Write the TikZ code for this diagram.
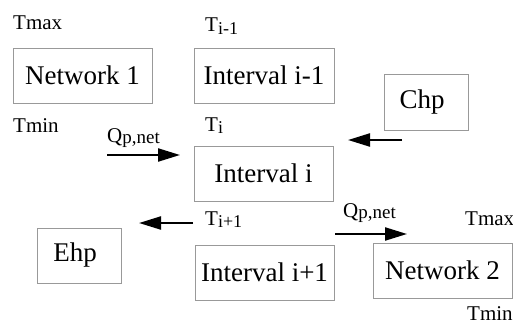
\documentclass[tikz,border=0pt]{standalone}
\usepackage{fontspec}
\setmainfont{Liberation Serif}
\usetikzlibrary{arrows.meta}
\newcommand\mysb[1]{\raisebox{-2.5pt}{\fontsize{18}{20}\selectfont #1}}
\begin{document}
\begin{tikzpicture}[x=1pt,y=-1pt,
  box/.style={draw=black!40, line width=0.9pt, inner sep=0pt, font=\fontsize{27}{30}\selectfont},
  lab/.style={anchor=base west, inner sep=0pt, font=\fontsize{21}{24}\selectfont},
  flow/.style={line width=2.2pt, -{Triangle[length=22pt,width=13pt]}}]
\useasboundingbox (0,0) rectangle (513,329);
% boxes
\node[box, minimum width=139pt, minimum height=55pt] (net1) at (82.5,75.5) {Network 1};
\node[box, minimum width=140pt, minimum height=55pt] (intm) at (264,75.5) {Interval i-1};
\node[box, minimum width=84pt, minimum height=56pt] (chp) at (426,102) {\hspace*{-8pt}Chp};
\node[box, minimum width=139pt, minimum height=55pt] (inti) at (263.5,173.5) {Interval i};
\node[box, minimum width=84pt, minimum height=55pt] (ehp) at (79,255.5) {\hspace*{-8pt}Ehp};
\node[box, minimum width=139pt, minimum height=55pt] (intp) at (264.5,272.5) {Interval i+1};
\node[box, minimum width=139pt, minimum height=55pt] (net2) at (442.5,270.5) {Network 2};
% labels
\node[lab] (tmax1) at (13,30) {Tmax};
\node[lab] (tmin1) at (13,132) {Tmin};
\node[lab] (tim) at (205,32) {T\mysb{i-1}};
\node[lab] (ti) at (205,131) {T\mysb{i}};
\node[lab] (tip) at (205,225) {T\mysb{i+1}};
\node[lab] (q1) at (107,142) {Q\raisebox{-1pt}{\fontsize{19}{20}\selectfont p,net}};
\node[lab] (q2) at (343,217) {Q\raisebox{-1pt}{\fontsize{19}{20}\selectfont p,net}};
\node[lab] (tmax2) at (465,225) {Tmax};
\node[lab] (tmin2) at (467,320) {Tmin};
% arrows
\coordinate (a1s) at (107,155);
\coordinate (a1e) at (180,155);
\coordinate (a2s) at (402,140);
\coordinate (a2e) at (348,140);
\coordinate (a3s) at (193,223);
\coordinate (a3e) at (139,223);
\coordinate (a4s) at (335,234);
\coordinate (a4e) at (407,234);
\draw[flow] (a1s) -- (a1e);
\draw[flow] (a2s) -- (a2e);
\draw[flow] (a3s) -- (a3e);
\draw[flow] (a4s) -- (a4e);
\end{tikzpicture}
\end{document}
